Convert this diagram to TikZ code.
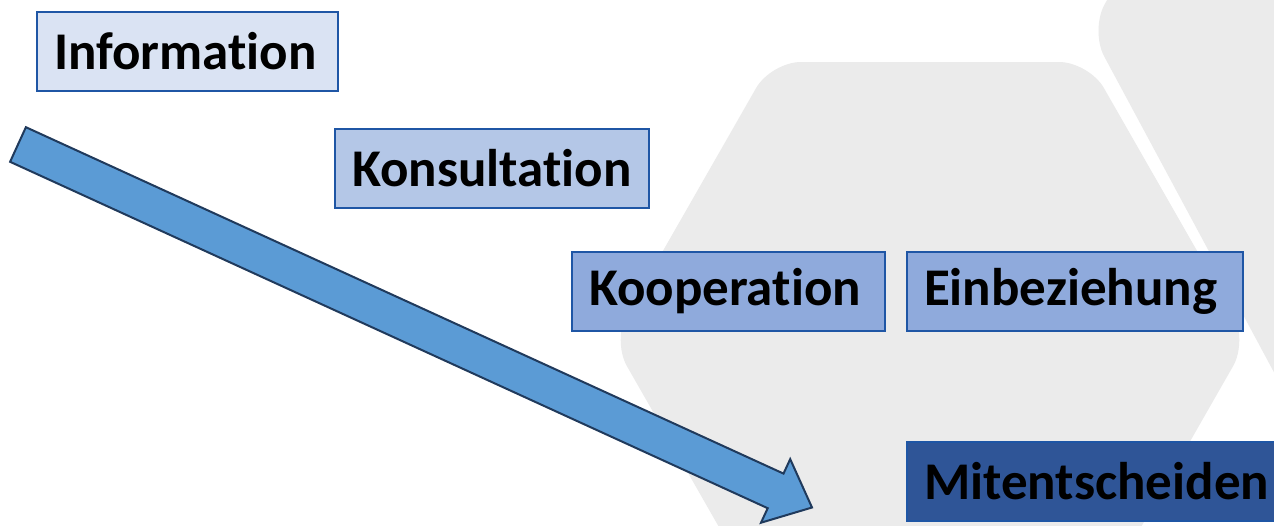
\documentclass[tikz,border=0pt]{standalone}
\usepackage{fontspec}
\setmainfont{Carlito}[Ligatures=NoCommon]
\definecolor{hexgray}{HTML}{EBEBEB}
\definecolor{bordblue}{HTML}{1F56A5}
\definecolor{fillA}{HTML}{DAE3F3}
\definecolor{fillB}{HTML}{B4C7E7}
\definecolor{fillC}{HTML}{8FAADC}
\definecolor{fillD}{HTML}{2F5597}
\definecolor{arrowfill}{HTML}{5B9BD5}
\definecolor{arrowdraw}{HTML}{203A5C}
\tikzset{
  box/.style={draw=bordblue, line width=2pt, anchor=north west, inner xsep=17pt, inner ysep=0pt,
    align=left, minimum height=79pt, font=\fontsize{53}{63}\selectfont\bfseries, text=black},
  hexagon/.style={fill=hexgray, rounded corners=30pt},
  bigarrow/.style={fill=arrowfill, draw=arrowdraw, line width=2pt, line join=miter}
}
\begin{document}
\begin{tikzpicture}[x=1pt, y=-1pt]
\clip (0,0) rectangle (1274,525);
\fill[white] (0,0) rectangle (1274,525);
% background hexagons
\fill[hexagon] (771,62) -- (1089,62) -- (1248,340) -- (1089,618) -- (771,618) -- (612,340) -- cycle;
\fill[hexagon] (1090,30) -- (1260,-268) -- (1600,-268) -- (1760,30) -- (1600,420) -- (1305,430) -- cycle;
% boxes
\node[box, fill=fillA, text width=267pt] (info) at (36,11) {Information};
\node[box, fill=fillB, text width=280pt] (kons) at (334,128) {Konsultation};
\node[box, fill=fillC, text width=279pt] (koop) at (571,251) {Kooperation};
\node[box, fill=fillC, text width=302pt] (einb) at (906,251) {Einbeziehung};
\node[box, fill=fillD, text width=370pt] (mite) at (906,441) {Mitentscheiden};
% arrow
\draw[bigarrow] (25.9,127.2) -- (783.5,473.6) -- (790.2,459.1) -- (812,507.5) -- (761.0,522.7) -- (767.7,508.2) -- (10.1,161.8) -- cycle;
\end{tikzpicture}
\end{document}
